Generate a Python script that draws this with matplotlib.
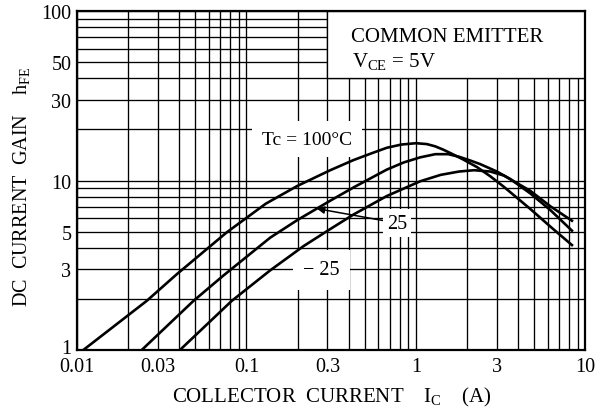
import numpy as np
import matplotlib.pyplot as plt
from matplotlib.patches import Rectangle
from matplotlib.ticker import NullFormatter
from matplotlib.transforms import ScaledTranslation

plt.rcParams['font.family'] = ['Liberation Serif', 'DejaVu Serif']
plt.rcParams['mathtext.fontset'] = 'custom'
plt.rcParams['mathtext.rm'] = 'Liberation Serif'

# collector current (A) and hFE
ic_100 = [0.0109, 0.0258, 0.0388, 0.0766, 0.13, 0.2, 0.312, 0.428, 0.55, 0.673, 0.82, 1.0,
          1.16, 1.3, 1.45, 1.6, 1.9, 2.29, 2.74, 3.29, 4.72, 6.2, 8.32]
hfe_100 = [1.0, 1.95, 2.8, 4.95, 7.3, 9.3, 11.5, 13.2, 14.5, 15.6, 16.3, 16.6,
           16.4, 15.9, 15.2, 14.5, 13.3, 12.0, 10.6, 9.2, 6.8, 5.35, 4.16]

ic_25 = [0.0241, 0.0487, 0.0731, 0.138, 0.2, 0.312, 0.428, 0.673, 0.85, 1.06, 1.3, 1.55,
         1.8, 2.1, 2.39, 3.0, 3.6, 4.72, 6.2, 8.32]
hfe_25 = [1.0, 1.95, 2.75, 4.6, 5.85, 7.6, 9.1, 11.6, 12.8, 13.7, 14.3, 14.3,
          13.8, 13.1, 12.5, 11.3, 10.2, 8.4, 6.7, 5.06]

ic_m25 = [0.0405, 0.0819, 0.138, 0.217, 0.312, 0.428, 0.673, 1.06, 1.4, 1.8, 2.2, 2.74,
          3.3, 4.72, 6.2, 8.32]
hfe_m25 = [1.0, 1.95, 2.95, 4.1, 5.17, 6.3, 8.1, 9.9, 10.8, 11.3, 11.5, 11.3,
           10.7, 8.7, 7.05, 5.79]

x_ticks = [0.01, 0.03, 0.1, 0.3, 1, 3, 10]
x_labels = ['0.01', '0.03', '0.1', '0.3', '1', '3', '10']
y_ticks = [1, 3, 5, 10, 30, 50, 100]
y_labels = ['1', '3', '5', '10', '30', '50', '100']

x_grid = [k * 10.0 ** e for e in (-2, -1, 0) for k in range(1, 10)] + [10]
y_grid = [k * 10.0 ** e for e in (0, 1) for k in range(1, 10)] + [100]

fig = plt.figure(figsize=(6.1, 4.1), dpi=100)
ax = fig.add_axes([0.1262, 0.1439, 0.8336, 0.8268])
ax.set_xscale('log')
ax.set_yscale('log')
ax.set_xlim(0.01, 10)
ax.set_ylim(1, 100)

ax.set_xticks(x_grid, minor=True)
ax.set_yticks(y_grid, minor=True)
ax.set_xticks(x_ticks)
ax.set_xticklabels(x_labels)
ax.set_yticks(y_ticks)
ax.set_yticklabels(y_labels)
ax.xaxis.set_minor_formatter(NullFormatter())
ax.yaxis.set_minor_formatter(NullFormatter())
ax.grid(which='both', color='black', lw=0.95)
ax.tick_params(which='both', length=0, labelsize=14.5)
ax.tick_params(axis='x', pad=5)
ax.tick_params(axis='y', pad=4)
for sp in ax.spines.values():
    sp.set_linewidth(1.6)

# lift the bottom "1" a little so it clears "0.01"
lab1 = ax.get_yticklabels()[0]
lab1.set_transform(lab1.get_transform() + ScaledTranslation(0, 4 / 100, fig.dpi_scale_trans))

for ic, hfe in [(ic_100, hfe_100), (ic_25, hfe_25), (ic_m25, hfe_m25)]:
    ax.plot(ic, hfe, color='black', lw=1.9, solid_joinstyle='round', zorder=3)

# condition box in the top right corner
x0 = np.log10(30) / 3
y0 = np.log10(40) / 2
ax.add_patch(Rectangle((x0, y0), 1 - x0, 1 - y0, transform=ax.transAxes,
                       facecolor='white', edgecolor='black', lw=0.95, zorder=2.5))
ax.text(0.539, 0.9115, 'COMMON EMITTER', transform=ax.transAxes, fontsize=15,
        va='baseline', zorder=4)
ax.text(0.541, 0.8378, r'$\mathregular{V_{CE}}$ = 5V', transform=ax.transAxes,
        fontsize=15, va='baseline', zorder=4)

white = dict(boxstyle='square,pad=0.5', fc='white', ec='none')
ax.text(0.4523, 0.6224, 'Tc = 100°C', transform=ax.transAxes, fontsize=14,
        ha='center', va='center', bbox=white, zorder=2.6)
ax.text(0.481, 0.236, '− 25', transform=ax.transAxes, fontsize=14.5,
        ha='center', va='center', bbox=white, zorder=2.6)

arrow_x = 0.26
arrow_y = 10 ** np.interp(np.log10(arrow_x), np.log10(ic_25), np.log10(hfe_25))
ax.annotate('25', xy=(arrow_x, arrow_y), xycoords='data',
            xytext=(0.629, 0.3746), textcoords='axes fraction', fontsize=14.5,
            ha='center', va='center',
            bbox=dict(boxstyle='square,pad=0.2', fc='white', ec='none'),
            arrowprops=dict(arrowstyle='-|>', color='black', lw=1.1,
                            mutation_scale=11, shrinkA=0, shrinkB=0),
            zorder=2.6)

fig.text(22 / 610, 1 - 187 / 410, r'DC  CURRENT  GAIN    $\mathregular{h_{FE}}$',
         rotation=90, ha='center', va='center', fontsize=14.5)
fig.text(332 / 610, 1 - 402 / 410, r'COLLECTOR  CURRENT    $\mathregular{I_C}$    (A)',
         ha='center', va='baseline', fontsize=15)

fig.savefig('out.png', dpi=100)
